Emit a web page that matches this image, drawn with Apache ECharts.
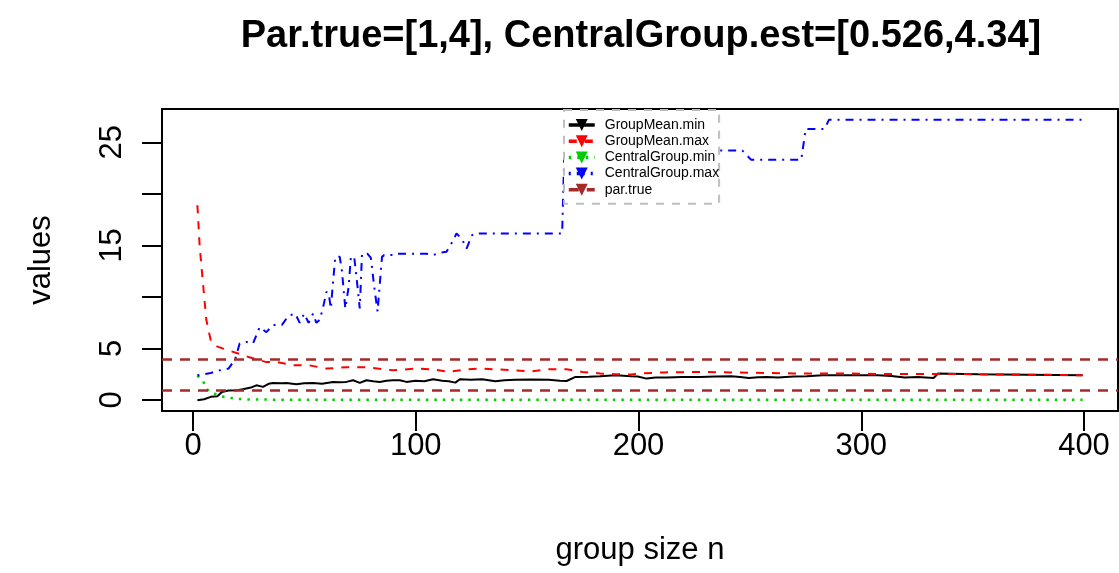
<!DOCTYPE html>
<html><head><meta charset="utf-8">
<script src="https://cdn.jsdelivr.net/npm/echarts@6/dist/echarts.min.js"></script>
<style>html,body{margin:0;padding:0;background:#fff}#c{width:1119px;height:573px}</style>
</head><body><div id="c"></div>
<script>
// ---- data ----
const titleText = 'Par.true=[1,4], CentralGroup.est=[0.526,4.34]';
const xName = 'group size n';
const yName = 'values';
const xTicks = [0, 100, 200, 300, 400];
const yTicks = [0, 5, 10, 15, 20, 25];
const yTickLabels = ['0', '5', '', '15', '', '25'];
const seriesNames = ['GroupMean.min', 'GroupMean.max', 'CentralGroup.min', 'CentralGroup.max', 'par.true'];
const parTrue = [1, 4];

const gmMinN = [2,5,8,11,13,16,20,23,26,28.5,31.5,34,36,40,42,46.5,50,54,58,63,66,69,72,75,78,81,84,87,90,93,96,100,104,108,112,115,118,120,125,130,136,140,145,152,160,165,168,172,178,183,190,197,200,204,208,213,220,228,235,242,246,250,254,258,263,270,276,283,300,308,314,320,326,333,335,353,375,400];
const gmMinV = [0,0.1,0.33,0.4,0.8,0.95,0.97,1.1,1.23,1.45,1.3,1.6,1.68,1.65,1.68,1.55,1.65,1.68,1.6,1.78,1.75,1.78,1.94,1.68,1.94,1.85,1.78,1.9,1.94,1.94,1.78,1.9,1.85,2.04,1.9,1.84,1.71,2.04,2.0,2.04,1.84,1.95,2.0,2.02,2.0,1.9,1.87,2.26,2.28,2.33,2.42,2.33,2.3,2.1,2.2,2.2,2.25,2.26,2.3,2.33,2.25,2.16,2.22,2.26,2.2,2.3,2.32,2.42,2.42,2.42,2.35,2.2,2.25,2.16,2.6,2.52,2.48,2.42];

const gmMaxN = [2,3,4.4,6,8,11,15,20,25,28,33,38,45,52,60,69,78,90,100,108,115,123,130,145,152,160,168,175,183,190,197,202,212,228,242,257,270,290,310,330,345,360,380,400];
const gmMaxV = [18.9,15,11.6,7.8,5.8,5.2,4.9,4.55,4.2,4.0,3.7,3.7,3.4,3.4,3.07,3.2,3.2,2.9,3.07,3.0,2.75,3.0,3.07,2.9,2.8,3.0,3.0,2.75,2.6,2.52,2.5,2.6,2.7,2.75,2.7,2.65,2.6,2.6,2.55,2.55,2.55,2.5,2.48,2.42];

const cgMinN = [2,4.6,6,9,12.5,16,20,25,40,400];
const cgMinV = [2.4,1.84,1.1,0.7,0.39,0.26,0.13,0.08,0.05,0.05];

const cgMaxN = [2,8,12,16,19,21,24,27,30,33,36,40,43,46,48,50,52,54,55.5,57,58.5,60,61,62,63,64,66,67,68.5,70,71,72.5,74,75,76,78.5,80,81.5,83,85,86,91,92,105,108,111,114,117,118.5,121,123,125.5,127,166,167,247,251,273.5,275.5,284,286,400];
const cgMaxV = [2.42,2.65,2.9,3.07,4.0,5.5,5.66,5.5,7.1,6.6,7.3,7.3,8.2,8.4,7.5,8.4,7.5,8.4,7.5,7.8,9.0,10.5,10.4,8.9,11.5,13.9,13.9,12.5,8.9,11,13.9,13.9,11,8.9,14.2,14.2,13.8,11,8.6,13.9,14.07,14.07,14.2,14.2,14.07,14.3,14.4,15.5,16.17,15.6,14.7,16.0,16.17,16.17,24.2,24.2,23.3,23.3,26.3,26.3,27.2,27.2];

const zip = (a, b) => a.map((v, i) => [v, b[i]]);
const FONT = 'Liberation Sans, Arial, sans-serif';

const chart = echarts.init(document.getElementById('c'), null, {renderer: 'canvas'});

function lineSeries(name, data, color, dash, width) {
  return {
    name, type: 'line', data, xAxisIndex: 0, yAxisIndex: 0,
    showSymbol: false, symbol: 'triangle', symbolRotate: 180, symbolSize: 10,
    itemStyle: {color},
    lineStyle: {color, width, type: dash},
    emphasis: {disabled: true}, silent: true, clip: true, z: 2
  };
}

const option = {
  animation: false,
  backgroundColor: '#fff',
  title: {
    text: titleText, left: 636, top: 13, textAlign: 'center',
    textStyle: {fontSize: 38, fontWeight: 'bold', color: '#000', fontFamily: FONT}
  },
  grid: [
    {left: 162, top: 109, width: 956, height: 302, show: true, borderColor: '#000', borderWidth: 2, backgroundColor: 'transparent', containLabel: false},
    {left: 193, top: 109, width: 891, height: 302, show: false, containLabel: false},
    {left: 162, top: 142.3, width: 956, height: 257.7, show: false, containLabel: false}
  ],
  xAxis: [
    {gridIndex: 0, type: 'value', min: -13.92, max: 415.92,
     axisLine: {show: false}, axisTick: {show: false}, axisLabel: {show: false}, splitLine: {show: false},
     name: xName, nameLocation: 'middle', nameGap: 124,
     nameTextStyle: {fontSize: 31, color: '#000', fontFamily: FONT}},
    {gridIndex: 1, type: 'value', min: xTicks[0], max: xTicks[xTicks.length - 1], interval: 100,
     axisLine: {show: true, lineStyle: {color: '#000', width: 2}},
     axisTick: {show: true, length: 20, lineStyle: {color: '#000', width: 2}},
     axisLabel: {show: true, fontSize: 31, color: '#000', margin: 20, fontFamily: FONT},
     splitLine: {show: false}},
    {gridIndex: 2, type: 'value', show: false, min: 0, max: 1}
  ],
  yAxis: [
    {gridIndex: 0, type: 'value', min: -1.04, max: 28.23,
     axisLine: {show: false}, axisTick: {show: false}, axisLabel: {show: false}, splitLine: {show: false},
     name: yName, nameLocation: 'middle', nameGap: 105, nameRotate: 90,
     nameTextStyle: {fontSize: 31, color: '#000', fontFamily: FONT}},
    {gridIndex: 1, type: 'value', show: false, min: 0, max: 1},
    {gridIndex: 2, type: 'value', min: yTicks[0], max: yTicks[yTicks.length - 1], interval: 5,
     axisLine: {show: true, lineStyle: {color: '#000', width: 2}},
     axisTick: {show: true, length: 20, lineStyle: {color: '#000', width: 2}},
     axisLabel: {show: true, fontSize: 31, color: '#000', margin: 34, rotate: 90, fontFamily: FONT,
       formatter: v => yTickLabels[yTicks.indexOf(v)] ?? ''},
     splitLine: {show: false}},
  ],
  legend: {
    orient: 'vertical', left: 564, top: 110,
    data: seriesNames,
    itemWidth: 26, itemHeight: 15, itemGap: 2.2,
    padding: [8, 0, 7, 3],
    backgroundColor: '#fff', borderColor: '#bebebe', borderWidth: 2, borderType: [8, 8],
    textStyle: {fontSize: 14, color: '#000', fontFamily: FONT, padding: [0, 0, 0, 5]},
    lineStyle: {width: 3.5},
    selectedMode: false
  },
  series: [
    lineSeries(seriesNames[0], zip(gmMinN, gmMinV), '#000000', 'solid', 2),
    lineSeries(seriesNames[1], zip(gmMaxN, gmMaxV), '#ff0000', [8, 8], 2),
    lineSeries(seriesNames[2], zip(cgMinN, cgMinV), '#00cd00', [2.5, 6], 2.5),
    lineSeries(seriesNames[3], zip(cgMaxN, cgMaxV), '#0000ff', [2, 6, 8, 6], 2),
    Object.assign(lineSeries(seriesNames[4], [], '#a52a2a', [10, 8], 2.5), {
      markLine: {
        silent: true, symbol: ['none', 'none'], label: {show: false},
        lineStyle: {color: '#a52a2a', type: [10, 8], width: 2.5},
        emphasis: {disabled: true},
        data: parTrue.map(v => ({yAxis: v}))
      }
    })
  ]
};
chart.setOption(option);
</script>
</body></html>
